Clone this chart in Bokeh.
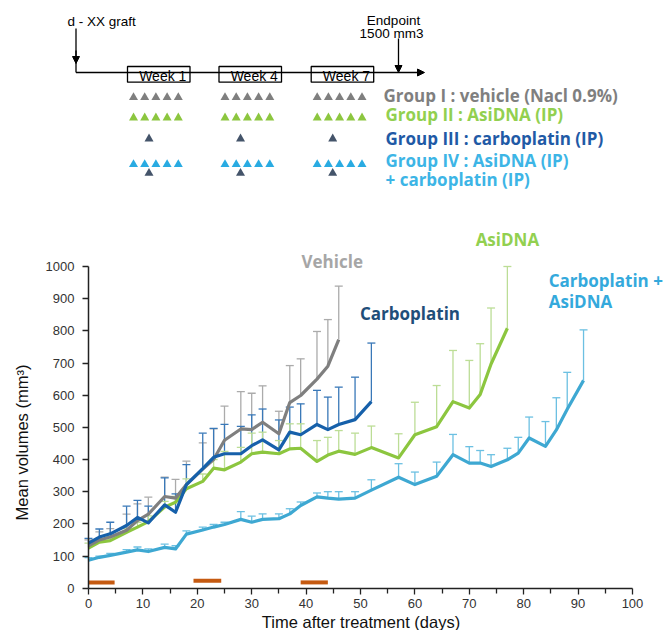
import numpy as np
from bokeh.plotting import figure
from bokeh.models import (Range1d, FixedTicker, Whisker, TeeHead, ColumnDataSource,
                          Arrow, NormalHead)
from bokeh.core.properties import value
from bokeh.embed import file_html
from bokeh.resources import INLINE

# ---------------- data ----------------
days = [0, 2, 4, 7, 9, 11, 14, 16, 18, 21, 23, 25, 28, 30, 32, 35, 37, 39, 42, 44, 46,
        49, 52, 57, 60, 64, 67, 70, 72, 74, 77, 79, 81, 84, 86, 88, 91]

vehicle_mean = [132, 150, 159, 180, 210, 230, 285, 280, 322, 370, 400, 460, 495, 493, 516,
                480, 577, 599, 650, 690, 773]
vehicle_top = [150, 175, 185, 230, 262, 283, 345, 338, 395, 452, 495, 566, 611, 606, 629,
               550, 692, 713, 798, 835, 939]

carbo_mean = [140, 159, 169, 195, 220, 203, 259, 236, 322, 372, 407, 418, 418, 443, 461,
              430, 485, 477, 509, 493, 509, 524, 580]
carbo_top = [155, 184, 205, 255, 273, 255, 343, 293, 384, 482, 497, 509, 503, 539, 557,
             523, 563, 573, 615, 594, 625, 656, 762]

asidna_mean = [125, 143, 148, 174, 190, 207, 252, 267, 309, 332, 373, 368, 392, 418, 423,
               418, 433, 435, 394, 414, 426, 416, 437, 405, 477, 502, 580, 560, 602, 697, 808]
asidna_top = [140, 155, 160, 185, 205, 225, 270, 285, 340, 355, 400, 425, 438, 482, 485,
              459, 511, 511, 459, 469, 490, 482, 504, 480, 578, 630, 739, 708, 760, 871, 1000]

combo_mean = [87, 96, 102, 112, 119, 114, 127, 122, 168, 181, 190, 198, 214, 205, 214, 216,
              231, 257, 284, 280, 277, 280, 305, 345, 322, 348, 415, 389, 389, 378, 399, 420,
              467, 441, 492, 556, 646]
combo_top = [95, 100, 108, 120, 128, 122, 137, 132, 178, 190, 198, 205, 238, 224, 231, 231,
             247, 268, 296, 300, 300, 300, 337, 387, 361, 392, 478, 440, 428, 415, 435, 469,
             532, 518, 592, 671, 803]

treat_start = [0, 19.3, 39]
treat_end = [4.8, 24.4, 44]
treat_level = [18, 23, 18]

y_ticks = list(range(0, 1001, 100))
x_ticks = list(range(0, 101, 10))
x_minor = list(range(5, 100, 10))

# schematic content
week_names = ["Week 1", "Week 4", "Week 7"]
group_texts = ["Group I : vehicle (Nacl 0.9%)", "Group II : AsiDNA (IP)",
               "Group III : carboplatin (IP)", "Group IV : AsiDNA (IP)", "+ carboplatin (IP)"]
group_text_colors = ["#7f7f7f", "#92d050", "#1f5aa6", "#3db5e6", "#3db5e6"]
daily_doses = 5

# ---------------- styling / layout ----------------
C_VEH, C_VEH_E = "#7f7f7f", "#ababab"
C_CAR, C_CAR_E = "#1660aa", "#3978b8"
C_ASI, C_ASI_E = "#8cc63f", "#bcdd96"
C_COM, C_COM_E = "#3ea8d2", "#6cc0e2"
C_TRI_DARK = "#44546a"
AX_FONT = "Liberation Sans"
BOLD_FONT = "Open Sans"

W, H = 663, 630
X0_PX, PX_PER_DAY = 88.0, 5.44      # day 0 at page x 88
Y0_PX, PX_PER_UNIT = 587.7, 0.3217  # volume 0 at page y 587.7

p = figure(width=W, height=H,
           x_range=Range1d(-X0_PX / PX_PER_DAY, (W - X0_PX) / PX_PER_DAY),
           y_range=Range1d(-(H - Y0_PX) / PX_PER_UNIT, Y0_PX / PX_PER_UNIT),
           output_backend="svg", toolbar_location=None, min_border=0,
           min_border_left=0, min_border_right=0, min_border_top=0, min_border_bottom=0)
p.extra_x_ranges = {"page": Range1d(0, W)}
p.extra_y_ranges = {"page": Range1d(H, 0)}
p.grid.visible = False
p.outline_line_color = None

# axes fixed at the data origin
p.xaxis.fixed_location = 0
p.yaxis.fixed_location = 0
p.yaxis.ticker = FixedTicker(ticks=y_ticks)
p.yaxis.bounds = (0, 1000)
p.xaxis.ticker = FixedTicker(ticks=x_ticks, minor_ticks=x_minor)
p.xaxis.bounds = (0, 100)
for ax in (p.xaxis, p.yaxis):
    ax.axis_line_color = "#222222"
    ax.axis_line_width = 1.5
    ax.major_tick_line_color = "#222222"
    ax.major_tick_line_width = 1.3
    ax.major_tick_in = 0
    ax.major_tick_out = 6
    ax.major_label_text_font = AX_FONT
    ax.major_label_text_font_size = "13px"
    ax.major_label_text_color = "#333333"
p.yaxis.minor_tick_line_color = None
p.yaxis.major_label_standoff = 8
p.xaxis.minor_tick_line_color = "#222222"
p.xaxis.minor_tick_line_width = 1.3
p.xaxis.minor_tick_in = 0
p.xaxis.minor_tick_out = 5
p.xaxis.major_label_standoff = 5

pg = dict(x_range_name="page", y_range_name="page")

# axis titles
p.text(x=[360.5], y=[621], text=["Time after treatment (days)"], text_font=value(AX_FONT),
       text_font_size="16.5px", text_align="center", text_baseline="middle",
       text_color="#111111", **pg)
p.text(x=[21], y=[442], text=["Mean volumes (mm³)"], angle=np.pi / 2,
       text_font=value(AX_FONT), text_font_size="16.5px", text_align="center",
       text_baseline="middle", text_color="#111111", **pg)

# ---------------- series ----------------
series = [
    (vehicle_mean, vehicle_top, C_VEH, C_VEH_E),
    (carbo_mean, carbo_top, C_CAR, C_CAR_E),
    (asidna_mean, asidna_top, C_ASI, C_ASI_E),
    (combo_mean, combo_top, C_COM, C_COM_E),
]
for mean, top, col, ecol in series:
    n = len(mean)
    src = ColumnDataSource(dict(x=days[:n], y=mean, top=top))
    p.add_layout(Whisker(source=src, base="x", lower="y", upper="top", line_color=ecol,
                         line_width=1.3, lower_head=None,
                         upper_head=TeeHead(size=8, line_color=ecol, line_width=1.3)))

for i in [3, 2, 0, 1]:
    mean, top, col, ecol = series[i]
    p.line(days[:len(mean)], mean, line_color=col, line_width=3.2, line_join="round")

p.segment(x0=treat_start, x1=treat_end, y0=treat_level, y1=treat_level,
          line_color="#c55a11", line_width=4)

lab_kw = dict(text_font=value(BOLD_FONT), text_font_style="bold", text_font_size="17px",
              text_baseline="middle")
p.text(x=[44.8], y=[1015], text=["Vehicle"], text_color="#a6a6a6", text_align="center", **lab_kw)
p.text(x=[49.9], y=[855], text=["Carboplatin"], text_color="#1f4e79", text_align="left", **lab_kw)
p.text(x=[77.0], y=[1083], text=["AsiDNA"], text_color="#92d050", text_align="center", **lab_kw)
p.text(x=[84.6, 84.6], y=[955, 891], text=["Carboplatin +", "AsiDNA"], text_color="#34a9dc",
       text_align="left", **lab_kw)

# ---------------- treatment schematic (page coordinates) ----------------
line_y = 72
graft_x = 75.5
end_x = 398
box_left = [127, 218.5, 310.7]
box_w, box_top, box_bot = 62.5, 66, 81.7
head = dict(size=7, fill_color="black", line_color="black")

p.line([graft_x, graft_x], [28, line_y], line_color="black", line_width=1.3, **pg)
p.add_layout(Arrow(end=NormalHead(**head), x_start=graft_x, y_start=50, x_end=graft_x,
                   y_end=63, line_color="black", line_width=1.3, **pg))
p.add_layout(Arrow(end=NormalHead(**head), x_start=graft_x, y_start=line_y, x_end=424,
                   y_end=line_y, line_color="black", line_width=1.3, **pg))
p.add_layout(Arrow(end=NormalHead(**head), x_start=end_x, y_start=38, x_end=end_x,
                   y_end=line_y, line_color="black", line_width=1.3, **pg))
p.quad(left=box_left, right=[b + box_w for b in box_left], top=[box_top] * 3,
       bottom=[box_bot] * 3, fill_color="white", line_color="black", line_width=1.3, **pg)
p.text(x=[b + box_w / 2 + 4 for b in box_left], y=[75.5] * 3, text=week_names,
       text_font=value(AX_FONT), text_font_size="14px", text_align="center",
       text_baseline="middle", text_color="black", **pg)
p.text(x=[67], y=[21], text=["d - XX graft"], text_font=value(AX_FONT), text_font_size="13.5px",
       text_align="left", text_baseline="middle", text_color="black", **pg)
p.text(x=[393, 391], y=[20, 32.5], text=["Endpoint", "1500 mm3"], text_font=value(AX_FONT),
       text_font_size="13.5px", text_align="center", text_baseline="middle", text_color="black",
       **pg)

tri_dx = 11.2
row_y = [97, 117.3, 138.3, 164, 172.7]
five_x = [b + 6 + i * tri_dx for b in box_left for i in range(daily_doses)]
one_x = [b + 21.5 for b in box_left]
tri = dict(marker="triangle", size=9, line_color=None, **pg)
p.scatter(five_x, [row_y[0]] * len(five_x), fill_color="#7f7f7f", **tri)
p.scatter(five_x, [row_y[1]] * len(five_x), fill_color="#8cc63f", **tri)
p.scatter(one_x, [row_y[2]] * 3, fill_color=C_TRI_DARK, **tri)
p.scatter(five_x, [row_y[3]] * len(five_x), fill_color="#29abe2", **tri)
p.scatter(one_x, [row_y[4]] * 3, fill_color=C_TRI_DARK, **tri)

p.text(x=[383, 385, 385, 385, 385], y=[95, 114, 138.3, 160, 179], text=group_texts,
       text_color=group_text_colors, text_font=value(BOLD_FONT), text_font_style="bold",
       text_font_size="17px", text_align="left", text_baseline="middle", **pg)

open("out.html", "w").write(file_html(p, INLINE))
